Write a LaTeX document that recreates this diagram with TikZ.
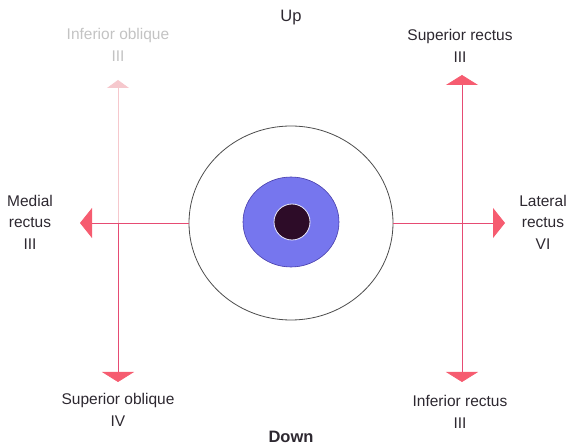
\documentclass[tikz,border=0pt]{standalone}
\usepackage{fontspec}
\setmainfont{Liberation Sans}
\usetikzlibrary{arrows.meta,shapes.geometric}
\definecolor{lineC}{RGB}{230,75,115}
\definecolor{headC}{RGB}{246,92,112}
\definecolor{faintC}{RGB}{246,200,205}
\definecolor{irisC}{RGB}{118,118,238}
\definecolor{irisD}{RGB}{70,60,170}
\definecolor{pupilC}{RGB}{45,12,40}
\definecolor{txtC}{RGB}{45,40,48}
\definecolor{fadeT}{RGB}{195,195,195}
\begin{document}
\begin{tikzpicture}[x=1pt,y=-1pt,
  ln/.style={draw=lineC, line width=0.8pt},
  lnfaint/.style={draw=faintC, line width=0.8pt},
  hhead/.style={-{Triangle[width=30pt,length=12pt,color=headC,fill=headC]}},
  vhead/.style={-{Triangle[width=32pt,length=10pt,color=headC,fill=headC]}},
  fhead/.style={-{Triangle[width=22pt,length=8pt,color=faintC,fill=faintC]}},
  lbl/.style={align=center, text=txtC, inner sep=0pt, font=\fontsize{15.5}{21.5}\selectfont}
]
\useasboundingbox (0,0) rectangle (568,446);
% eye
\node[ellipse, draw=black!70, line width=0.8pt, minimum width=204pt, minimum height=194pt, inner sep=0pt] (eye) at (291,223) {};
\node[ellipse, draw=irisD, fill=irisC, line width=0.6pt, minimum width=96pt, minimum height=90pt, inner sep=0pt] (iris) at (291,222) {};
\node[circle, draw=white!85!irisC, fill=pupilC, line width=0.8pt, minimum size=36pt, inner sep=0pt] (pupil) at (292,222) {};
% coordinates
\coordinate (mr) at (80,223);
\coordinate (lr) at (505,223);
\coordinate (lx) at (118,223);
\coordinate (rx) at (462,223);
\coordinate (lvtop) at (118,80);
\coordinate (lvbot) at (118,382);
\coordinate (rvtop) at (462,75);
\coordinate (rvbot) at (462,382);
% connectors
\draw[ln, hhead] (eye.west) -- (mr);
\draw[ln, hhead] (eye.east) -- (lr);
\draw[lnfaint, fhead] (lx) -- (lvtop);
\draw[ln, vhead] (lx) -- (lvbot);
\draw[ln, vhead] (rx) -- (rvtop);
\draw[ln, vhead] (rx) -- (rvbot);
% labels
\node[lbl, font=\fontsize{16.5}{21.5}\selectfont] (up) at (291,18) {Up};
\node[lbl, font=\fontsize{16.5}{21.5}\selectfont\bfseries] (down) at (291,437) {Down};
\node[lbl, text=fadeT] (io) at (118,45) {Inferior oblique\\III};
\node[lbl] (sr) at (460,46) {Superior rectus\\III};
\node[lbl] (med) at (30,222) {Medial\\rectus\\III};
\node[lbl] (lat) at (543,222) {Lateral\\rectus\\VI};
\node[lbl] (so) at (118,410) {Superior oblique\\IV};
\node[lbl] (ir) at (460,412) {Inferior rectus\\III};
\end{tikzpicture}
\end{document}
